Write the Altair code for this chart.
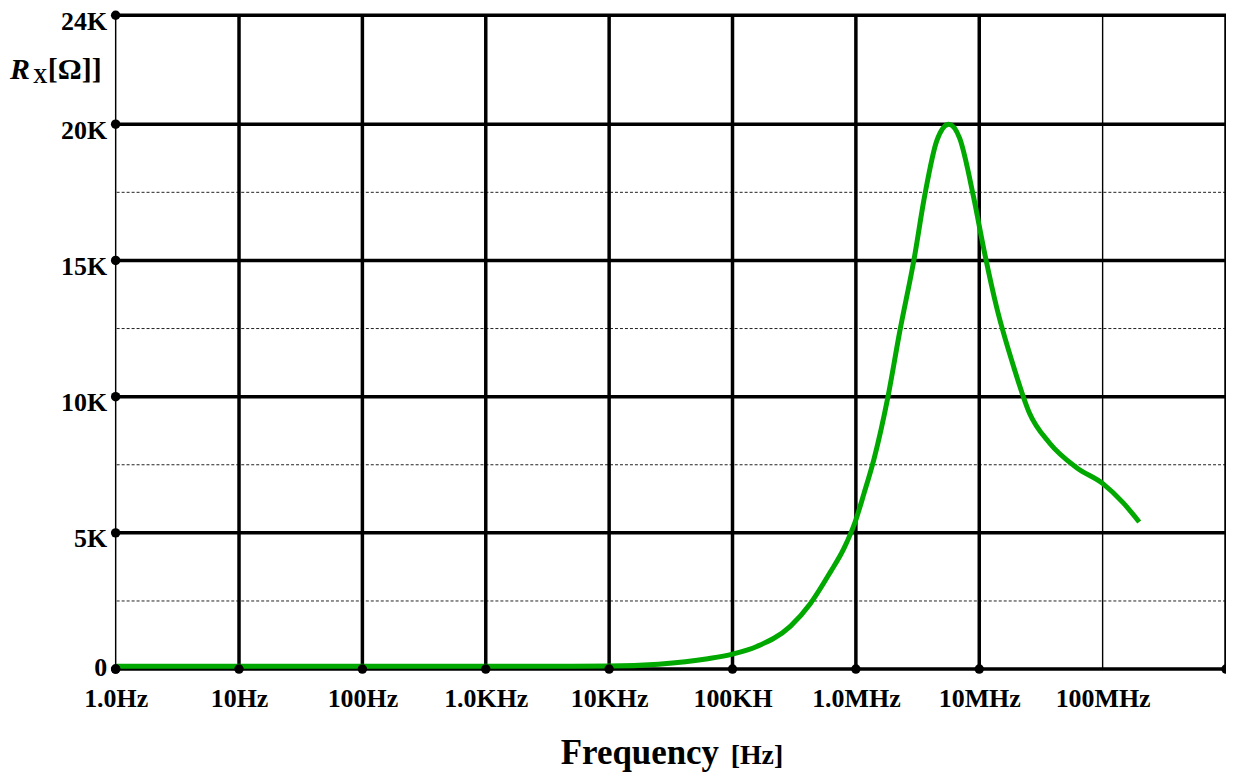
import json
import altair as alt
import pandas as pd

# ---- data ----
freq_hz = [1, 10, 100, 1e3, 1e4, 2.51e4, 6.31e4, 1e5, 1.59e5, 2.94e5, 4.27e5,
           6.19e5, 8.04e5, 9.86e5, 1.164e6, 1.40e6, 1.82e6, 2.27e6, 2.95e6,
           3.62e6, 4.53e6, 5.66e6, 6.92e6, 9.02e6, 1.09e7, 1.38e7,
           1.90e7, 2.55e7, 3.71e7, 6.12e7, 1.01e8, 1.47e8, 1.98e8]
rx_ohm = [100, 100, 100, 100, 110, 180, 380, 550, 840, 1570, 2400,
          3550, 4450, 5400, 6450, 7700, 10000, 12400, 15000,
          17400, 19400, 20000, 19500, 17300, 15400, 13300,
          11100, 9400, 8300, 7400, 6800, 6100, 5400]

y_major = [0, 5000, 10000, 15000, 20000, 24000]
y_major_labels = ["0", "5K", "10K", "15K", "20K", "24K"]
y_minor = [2500, 7500, 12500, 17500]

x_decades = [1, 10, 100, 1e3, 1e4, 1e5, 1e6, 1e7, 1e8]
x_labels = ["1.0Hz", "10Hz", "100Hz", "1.0KHz", "10KHz", "100KH",
            "1.0MHz", "10MHz", "100MHz"]
x_thick = [10, 100, 1e3, 1e4, 1e5, 1e6, 1e7, 1e9]
x_thin = [1, 1e8]
x_dots = [1, 10, 100, 1e3, 1e4, 1e5, 1e6, 1e7, 1e9]

FONT = "Liberation Serif"

xlab = {str(int(v)): t for v, t in zip(x_decades, x_labels)}
ylab = {str(int(v)): t for v, t in zip(y_major, y_major_labels)}

xscale = alt.Scale(type="log", domain=[1, 1e9], nice=False)
yscale = alt.Scale(domain=[0, 24000], nice=False, zero=False)

X = alt.X("f:Q", scale=xscale,
          axis=alt.Axis(values=x_decades, title=None, grid=False, domain=False,
                        ticks=False, labelFont=FONT, labelFontWeight="bold",
                        labelFontSize=26, labelColor="black", labelPadding=17,
                        labelFlush=False, labelOverlap=False, labelBound=False,
                        labelExpr=f"{json.dumps(xlab)}[''+datum.value]"))
Y = alt.Y("r:Q", scale=yscale,
          axis=alt.Axis(values=y_major, title=None, grid=False, domain=False,
                        ticks=False, labelFont=FONT, labelFontWeight="bold",
                        labelFontSize=26, labelColor="black", labelPadding=9,
                        labelOffset=6, labelFlush=False, labelOverlap=False,
                        labelBaseline={"condition": {"test": "datum.value == 0",
                                                     "value": "alphabetic"},
                                       "value": "middle"},
                        labelExpr=f"{json.dumps(ylab)}[''+datum.value]"))

curve = pd.DataFrame({"f": freq_hz, "r": rx_ohm})

minor_h = alt.Chart(pd.DataFrame({"r": y_minor})).mark_rule(
    color="#222", strokeWidth=1, strokeDash=[3, 2]).encode(y=Y)
major_h = alt.Chart(pd.DataFrame({"r": y_major})).mark_rule(
    color="black", strokeWidth=3.5).encode(y=Y)
thick_v = alt.Chart(pd.DataFrame({"f": x_thick})).mark_rule(
    color="black", strokeWidth=3.5).encode(x=X)
thin_v = alt.Chart(pd.DataFrame({"f": x_thin})).mark_rule(
    color="black", strokeWidth=1.4).encode(x=X)

line = alt.Chart(curve).mark_line(
    color="#00a800", strokeWidth=5, interpolate="monotone").encode(x=X, y=Y)

dots_y = alt.Chart(pd.DataFrame({"f": [1] * len(y_major), "r": y_major})).mark_circle(
    color="black", size=90, opacity=1).encode(x=X, y=Y)
dots_x = alt.Chart(pd.DataFrame({"f": x_dots, "r": [0] * len(x_dots)})).mark_circle(
    color="black", size=90, opacity=1).encode(x=X, y=Y)


def label(txt, x, y, size, style="normal", align="left"):
    return alt.Chart(pd.DataFrame({"t": [txt]})).mark_text(
        font=FONT, fontSize=size, fontWeight="bold", fontStyle=style,
        align=align, baseline="alphabetic", color="black").encode(
        text="t:N", x=alt.value(x), y=alt.value(y))


ytitle = (label("R", -106, 64, 30, style="italic")
          + label("X", -83, 68, 20)
          + label("[Ω]]", -68, 64, 30))
xtitle = (label("Frequency", 526, 751, 35, align="center")
          + label("[Hz]", 617, 751, 28))

chart = alt.layer(minor_h, major_h, thin_v, thick_v, line, dots_y, dots_x,
                  ytitle, xtitle).properties(
    width=1114, height=656,
    autosize=alt.AutoSizeParams(type="none"),
    padding={"left": 108, "top": 6, "right": 0, "bottom": 104},
).configure_view(stroke=None).configure(background="white")

chart.save("out.html", embed_options={"renderer": "svg", "actions": False})
